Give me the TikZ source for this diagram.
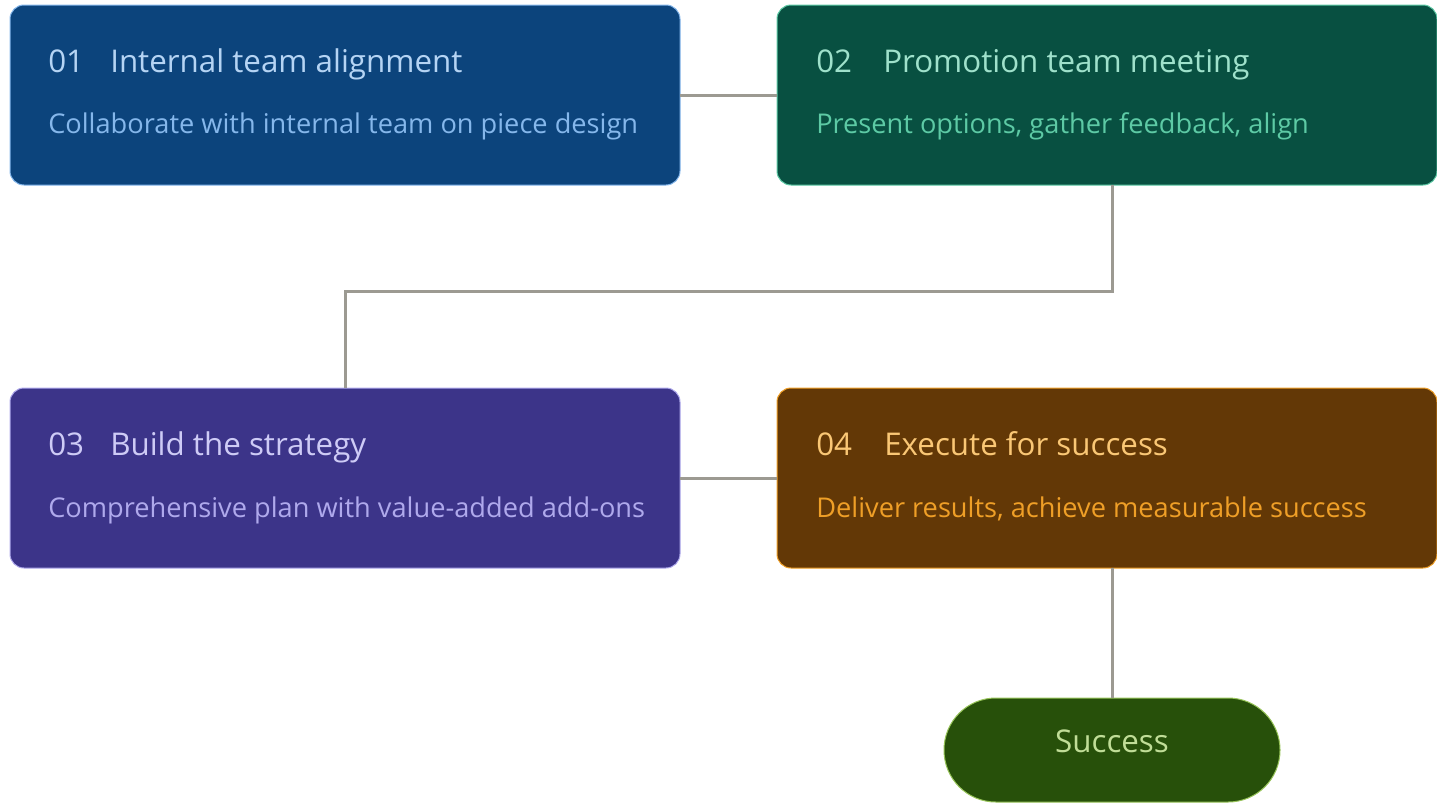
\documentclass[tikz,border=0pt]{standalone}
\usepackage{fontspec}
\setmainfont{Open Sans}
\definecolor{blueFill}{HTML}{0C447C}
\definecolor{blueLine}{HTML}{85B7EB}
\definecolor{blueHead}{HTML}{B5D4F4}
\definecolor{blueSub}{HTML}{85B7EB}
\definecolor{tealFill}{HTML}{085041}
\definecolor{tealLine}{HTML}{5DCAA5}
\definecolor{tealHead}{HTML}{9FE1CB}
\definecolor{tealSub}{HTML}{5DCAA5}
\definecolor{violetFill}{HTML}{3C3489}
\definecolor{violetLine}{HTML}{AFA9EC}
\definecolor{violetHead}{HTML}{CECBF6}
\definecolor{violetSub}{HTML}{AFA9EC}
\definecolor{amberFill}{HTML}{633806}
\definecolor{amberLine}{HTML}{EF9F27}
\definecolor{amberHead}{HTML}{FAC775}
\definecolor{amberSub}{HTML}{EF9F27}
\definecolor{greenFill}{HTML}{27500A}
\definecolor{greenLine}{HTML}{97C459}
\definecolor{greenText}{HTML}{C0DD97}
\definecolor{connGray}{HTML}{9C9A92}
\begin{document}
\begin{tikzpicture}[x=0.75pt,y=-0.75pt,
  card/.style={draw, line width=0.75pt, rounded corners=10.5pt,
    inner sep=0pt, outer sep=0pt, minimum height=135pt},
  pill/.style={draw, line width=0.75pt, rounded corners=38.9pt,
    inner sep=0pt, outer sep=0pt, minimum width=252pt, minimum height=78pt},
  headtxt/.style={anchor=base west, inner sep=0pt, font=\fontsize{23.5pt}{28pt}\selectfont},
  subtxt/.style={anchor=base west, inner sep=0pt, font=\fontsize{20.4pt}{24pt}\selectfont},
  conn/.style={draw=connGray, line width=2.25pt}]
\useasboundingbox (0,0) rectangle (1437,803);

% step cards
\node[card, minimum width=502.5pt, fill=blueFill, draw=blueLine] (b1) at (345,95) {};
\node[card, minimum width=495pt, fill=tealFill, draw=tealLine] (b2) at (1107,95) {};
\node[card, minimum width=502.5pt, fill=violetFill, draw=violetLine] (b3) at (345,478) {};
\node[card, minimum width=495pt, fill=amberFill, draw=amberLine] (b4) at (1107,478) {};
\node[pill, fill=greenFill, draw=greenLine] (ok) at (1112,750) {};

% card texts
\node[headtxt, text=blueHead] (n1) at (48,72) {01};
\node[headtxt, text=blueHead] (t1) at (110,72) {Internal team alignment};
\node[subtxt, text=blueSub] (s1) at (48,133) {Collaborate with internal team on piece design};

\node[headtxt, text=tealHead] (n2) at (816,72) {02};
\node[headtxt, text=tealHead] (t2) at (883,72) {Promotion team meeting};
\node[subtxt, text=tealSub] (s2) at (816,133) {Present options, gather feedback, align};

\node[headtxt, text=violetHead] (n3) at (48,455) {03};
\node[headtxt, text=violetHead] (t3) at (110,455) {Build the strategy};
\node[subtxt, text=violetSub] (s3) at (48,517) {Comprehensive plan with value-added add-ons};

\node[headtxt, text=amberHead] (n4) at (816,455) {04};
\node[headtxt, text=amberHead] (t4) at (884,455) {Execute for success};
\node[subtxt, text=amberSub] (s4) at (816,517) {Deliver results, achieve measurable success};

\node[anchor=base, inner sep=0pt, text=greenText, font=\fontsize{23.5pt}{28pt}\selectfont] (okt) at (1112,752) {Success};

% connectors
\coordinate (bend) at (345,291);
\draw[conn] (b1.east) -- (b2.west);
\draw[conn] (b2.south -| ok.north) |- (bend) -- (b3.north);
\draw[conn] (b3.east) -- (b4.west);
\draw[conn] (b4.south -| ok.north) -- (ok.north);
\end{tikzpicture}
\end{document}
